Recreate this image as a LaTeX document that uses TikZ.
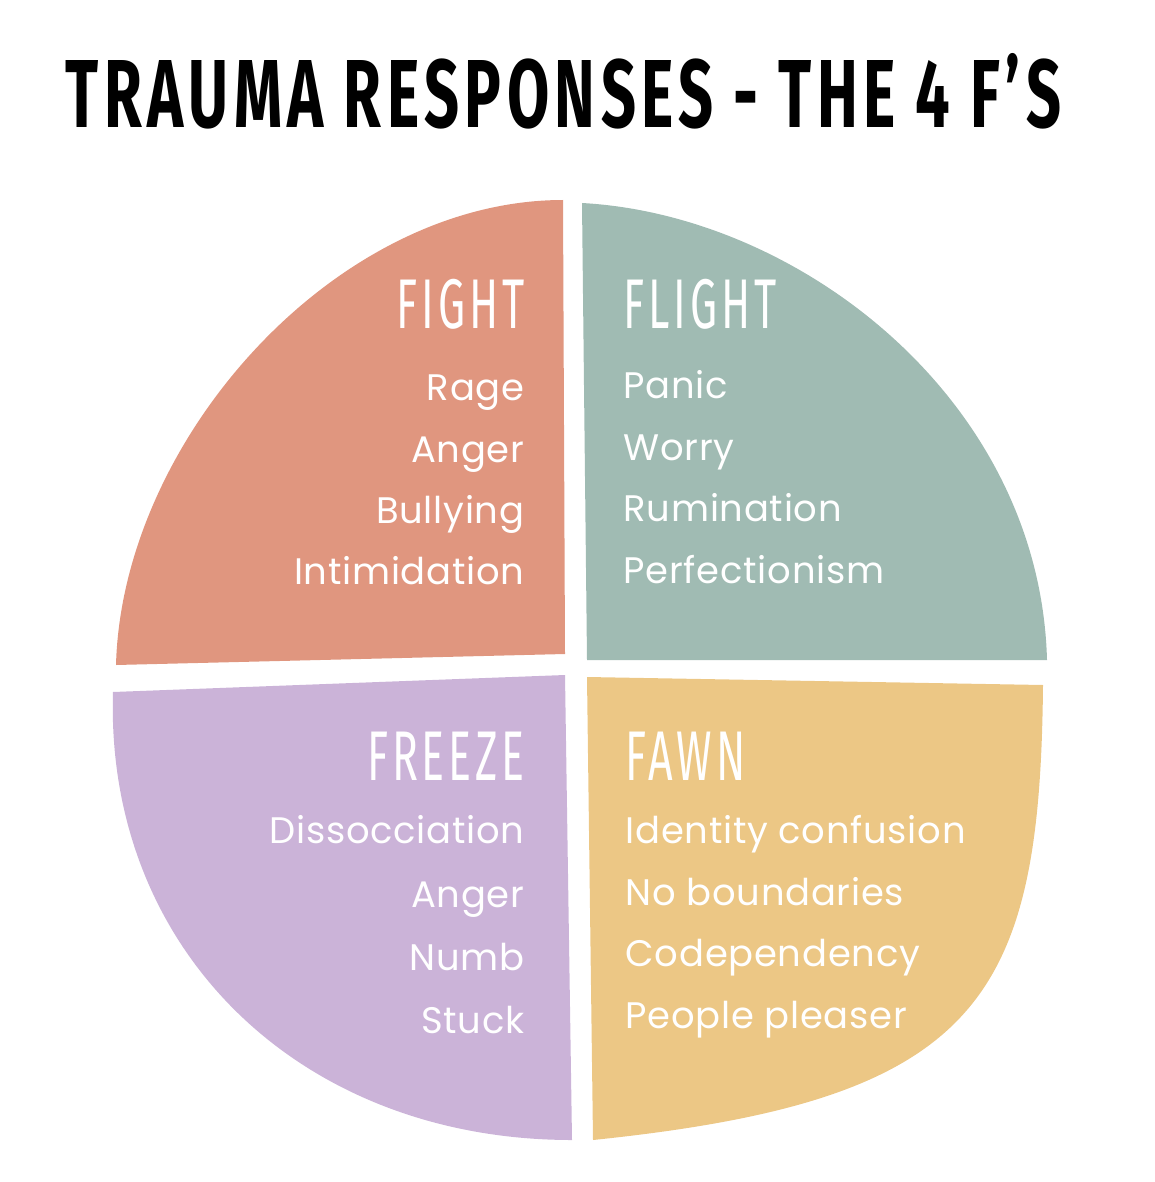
\documentclass[tikz,border=0pt]{standalone}
\usepackage{fontspec}
\usepackage{graphicx}
\usepackage{xcolor}
\newfontfamily\titlefont{Fira Sans}[LetterSpace=9]
\newfontfamily\handfont{Poppins}[LetterSpace=2]
\definecolor{fightcol}{HTML}{E0967F}
\definecolor{flightcol}{HTML}{A0BBB3}
\definecolor{freezecol}{HTML}{CBB3D8}
\definecolor{fawncol}{HTML}{ECC785}
\newcommand{\hscale}[1]{\scalebox{0.61}[1]{#1}}

\begin{document}
\begin{tikzpicture}[x=0.01cm, y=-0.01cm,
        head/.style={text=white, inner sep=0pt, font=\titlefont\fontseries{m}\fontsize{20}{20}\selectfont},
        item/.style={text=white, inner sep=0pt, font=\handfont\fontsize{10.5}{12}\selectfont}]
        	\useasboundingbox (0,0) rectangle (1154,1182);
        	% Quarters:
        	\fill[fightcol] (563,200) -- (565,654) -- (116,665) .. controls (122,440) and (335,200) .. (563,200) -- cycle;
        	\fill[flightcol] (582,203) .. controls (800,215) and (1040,400) .. (1047,660) -- (587,660) -- cycle;
        	\fill[freezecol] (113,692) -- (565,675) -- (572,1140) .. controls (300,1140) and (105,950) .. (113,692) -- cycle;
        	\fill[fawncol] (587,677) -- (1043,685) .. controls (1040,1000) and (980,1100) .. (593,1140) -- cycle;
        	% Title:
        	\node[anchor=base west, inner sep=0pt] (title) at (65,127) {\resizebox{9.95cm}{0.74cm}{\titlefont\fontseries{sb}\selectfont TRAUMA RESPONSES - THE 4 F’S}};
        	% Fight:
        	\node[head, anchor=base east] (fight) at (525,328) {\hscale{FIGHT}};
        	\node[item, anchor=base east] (fight1) at (525,400) {Rage};
        	\node[item, anchor=base east] (fight2) at (525,462) {Anger};
        	\node[item, anchor=base east] (fight3) at (525,523) {Bullying};
        	\node[item, anchor=base east] (fight4) at (525,584) {Intimidation};
        	% Flight:
        	\node[head, anchor=base west] (flight) at (623,328) {\hscale{FLIGHT}};
        	\node[item, anchor=base west] (flight1) at (623,398) {Panic};
        	\node[item, anchor=base west] (flight2) at (623,460) {Worry};
        	\node[item, anchor=base west] (flight3) at (623,521) {Rumination};
        	\node[item, anchor=base west] (flight4) at (623,583) {Perfectionism};
        	% Freeze:
        	\node[head, anchor=base east] (freeze) at (525,780) {\hscale{FREEZE}};
        	\node[item, anchor=base east] (freeze1) at (525,843) {Dissocciation};
        	\node[item, anchor=base east] (freeze2) at (525,907) {Anger};
        	\node[item, anchor=base east] (freeze3) at (525,970) {Numb};
        	\node[item, anchor=base east] (freeze4) at (525,1033) {Stuck};
        	% Fawn:
        	\node[head, anchor=base west] (fawn) at (625,780) {\hscale{FAWN}};
        	\node[item, anchor=base west] (fawn1) at (625,843) {Identity confusion};
        	\node[item, anchor=base west] (fawn2) at (625,905) {No boundaries};
        	\node[item, anchor=base west] (fawn3) at (625,966) {Codependency};
        	\node[item, anchor=base west] (fawn4) at (625,1028) {People pleaser};
        \end{tikzpicture}
\end{document}
